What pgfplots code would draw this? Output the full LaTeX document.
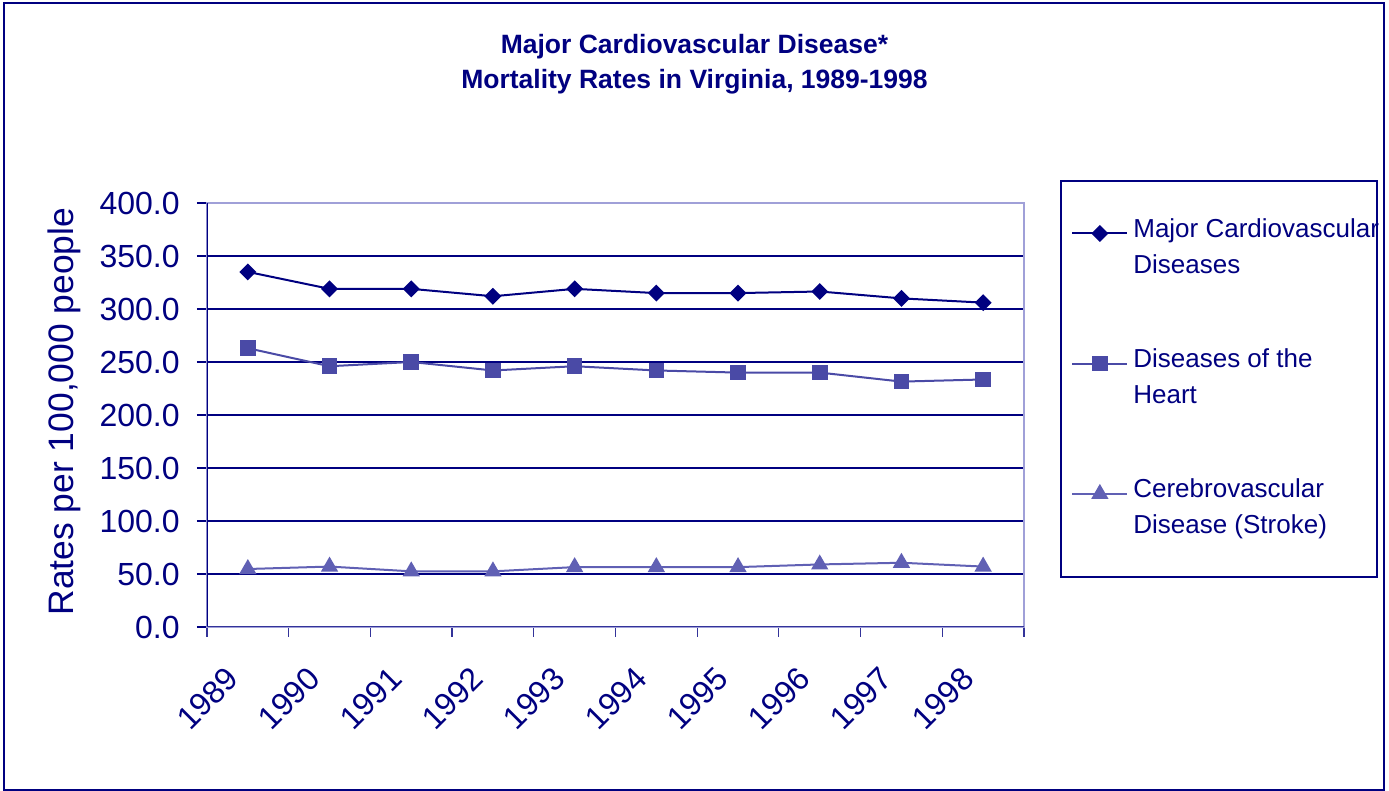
\documentclass[border=0pt]{standalone}
\usepackage{pgfplots}
\pgfplotsset{compat=1.18}
\usepackage{fontspec}
\setmainfont{Liberation Sans}
\definecolor{navyc}{RGB}{0,0,128}
\definecolor{heartc}{RGB}{74,74,166}
\definecolor{strokec}{RGB}{96,96,180}
\definecolor{lavc}{RGB}{160,160,216}
\definecolor{axc}{RGB}{51,51,153}
\begin{document}
\begin{tikzpicture}
\useasboundingbox (0,0) rectangle (694.5pt,395.5pt);
\draw[navyc, line width=1.2pt] (2pt,0.6pt) rectangle (692pt,394pt);
\node[anchor=base, text=navyc, inner sep=0pt, font=\fontsize{13.25}{16}\selectfont\bfseries] at (347.25pt,368.85pt) {Major Cardiovascular Disease*};
\node[anchor=base, text=navyc, inner sep=0pt, font=\fontsize{13.25}{16}\selectfont\bfseries] at (347.25pt,351pt) {Mortality Rates in Virginia, 1989-1998};
\begin{axis}[
  at={(103.5pt,82pt)}, anchor=south west,
  width=408.5pt, height=212pt, scale only axis,
  xmin=-0.5, xmax=9.5, ymin=0, ymax=400,
  xtick={0,...,9},
  xticklabels={1989,1990,1991,1992,1993,1994,1995,1996,1997,1998},
  minor xtick={-0.5,0.5,...,9.5},
  ytick={0,50,...,400},
  xtick pos=bottom, ytick pos=left,
  ymajorgrids,
  major grid style={navyc, line width=0.6pt},
  tick align=outside,
  major tick length=5pt, minor tick length=5pt,
  every major x tick/.append style={draw=none},
  every minor x tick/.append style={axc, line width=0.6pt},
  every major y tick/.append style={navyc, line width=0.6pt},
  axis line style={lavc, line width=0.8pt},
  /pgf/number format/assume math mode=true,
  yticklabel style={/pgf/number format/fixed, /pgf/number format/fixed zerofill, /pgf/number format/precision=1},
  every tick label/.append style={text=navyc, inner sep=0pt, font=\fontsize{16}{19}\selectfont},
  yticklabel style={anchor=east, xshift=-8.5pt},
  xticklabel style={xshift=-7.5pt, yshift=-18pt, rotate=45, anchor=east},
  ylabel={Rates per 100,000 people},
  every axis y label/.style={at={(axis description cs:-0.175,0.508)}, rotate=90, anchor=center, text=navyc, font=\fontsize{17.7}{20}\selectfont},
  legend style={at={(axis description cs:1.0575,0.9788)}, anchor=north west, draw=none, fill=none, inner sep=0pt, row sep=51pt, column sep=2.5pt, font=\fontsize{13}{18}\selectfont, text=navyc, nodes={inner sep=0pt}},
  legend cell align=left,
  legend image code/.code={\draw[mark repeat=2,mark phase=2] plot coordinates {(0pt,-3.5pt) (13.75pt,-3.5pt) (27.5pt,-3.5pt)};},
]
\addplot[navyc, line width=1pt, mark=square*, mark options={rotate=45, mark size=2.5pt, fill=navyc, draw=navyc}]
  coordinates {(0,335) (1,319) (2,319) (3,312) (4,319) (5,315) (6,315) (7,316.5) (8,310) (9,306)};
\addlegendentry{\begin{tabular}[t]{@{}l@{}}Major Cardiovascular\\Diseases\end{tabular}}
\addplot[heartc, line width=1pt, mark=square*, mark options={mark size=3.4pt, fill=heartc, draw=heartc}]
  coordinates {(0,263) (1,246) (2,250) (3,242) (4,246) (5,242) (6,240) (7,240) (8,231.5) (9,233.5)};
\addlegendentry{\begin{tabular}[t]{@{}l@{}}Diseases of the\\Heart\end{tabular}}
\addplot[strokec, line width=1pt, mark=triangle*, mark options={mark size=4pt, fill=strokec, draw=strokec}]
  coordinates {(0,54.7) (1,57) (2,52.5) (3,52.5) (4,56.5) (5,56.5) (6,56.5) (7,59) (8,60.6) (9,57)};
\addlegendentry{\begin{tabular}[t]{@{}l@{}}Cerebrovascular\\Disease (Stroke)\end{tabular}}
\draw[navyc, line width=0.8pt] (rel axis cs:0,0) -- (rel axis cs:0,1);
\draw[axc, line width=1.2pt] (rel axis cs:0,0) -- (rel axis cs:1,0);
\end{axis}
\draw[navyc, line width=0.75pt] (530.5pt,107pt) rectangle (688.5pt,305pt);
\end{tikzpicture}
\end{document}
